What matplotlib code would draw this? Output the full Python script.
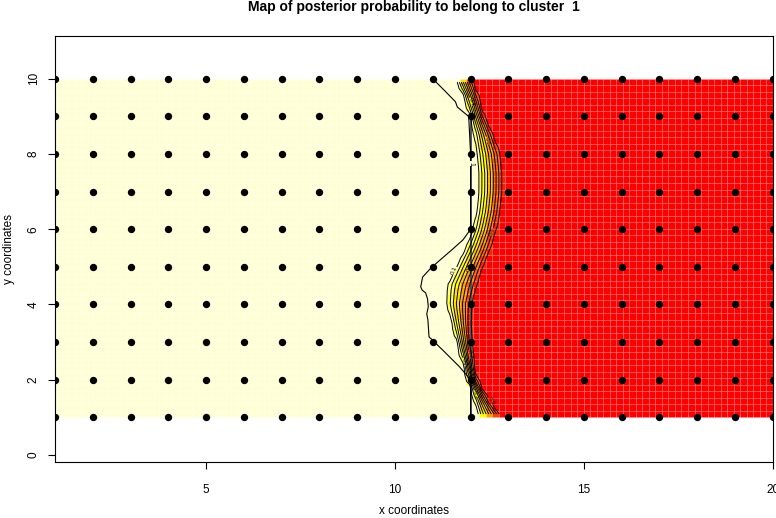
import matplotlib.pyplot as plt
import numpy as np
from matplotlib.colors import ListedColormap, BoundaryNorm

plt.rcParams['font.family'] = ['Liberation Sans', 'DejaVu Sans']

# --- DATA ---
# sampling locations (20 x 10 regular grid)
x_coords = np.arange(1, 21)
y_coords = np.arange(1, 11)

# transition zone: for each row y, the x where the
# posterior probability leaves 0 (left) and reaches 1 (right)
row_y = [1, 1.5, 2, 2.5, 3, 3.5, 4, 4.5, 5, 5.5, 6, 6.5, 7, 7.5, 8, 8.5, 9, 9.5, 10]
left_x = [12.15, 12.05, 11.9, 11.75, 11.6, 11.45, 11.3, 11.3, 11.55, 11.8,
          12.0, 12.1, 12.15, 12.15, 12.1, 12.05, 11.95, 11.8, 11.55]
right_x = [12.9, 12.5, 12.2, 12.1, 12.05, 12.05, 12.1, 12.25, 12.4, 12.6,
           12.75, 12.85, 12.9, 12.9, 12.85, 12.65, 12.4, 12.25, 12.1]

# jagged outer contour (level 0) on the left of the front
edge_x = [11.0, 11.3, 11.6, 11.65, 11.95, 12.0, 12.0, 11.8, 11.5, 11.2, 10.95,
          10.73, 10.68, 10.72, 10.81, 10.86, 10.88, 10.84, 10.87, 10.9, 11.3, 11.7, 12.0, 12.0]
edge_y = [10.0, 9.7, 9.39, 9.25, 9.0, 8.0, 6.0, 5.72, 5.45, 5.19, 4.97,
          4.73, 4.47, 4.38, 4.31, 4.15, 3.94, 3.75, 3.59, 3.14, 2.75, 2.35, 2.0, 1.0]

# R heat.colors(12), reversed: low probability -> pale yellow, high -> red
heat12 = ['#FF0000', '#FF2000', '#FF4000', '#FF6000', '#FF8000', '#FF9F00',
          '#FFBF00', '#FFDF00', '#FFFF00', '#FFFF2A', '#FFFF80', '#FFFFD5']
levels = [0.1, 0.2, 0.3, 0.4, 0.5, 0.6, 0.7, 0.8, 0.9]

# --- pixel map of the posterior probability ---
xe = np.linspace(1, 20, 111)
ye = np.linspace(1, 10, 53)
xc = (xe[:-1] + xe[1:]) / 2
yc = (ye[:-1] + ye[1:]) / 2
L = np.interp(yc, row_y, left_x)
R = np.interp(yc, row_y, right_x)
XC, YC = np.meshgrid(xc, yc)
prob = np.clip((XC - L[:, None]) / (R - L)[:, None], 0, 1)

cmap = ListedColormap(heat12[::-1])
norm = BoundaryNorm(np.linspace(0, 1, 13), cmap.N)

fig = plt.figure(figsize=(7.76, 5.18), dpi=100)
ax = fig.add_axes([0.0709, 0.108, 0.925, 0.8225])

# faint light seams between cells, like the R image() output
ax.pcolormesh(xe, ye, prob, cmap=cmap, norm=norm, antialiased=True,
              edgecolors=(1, 1, 1, 0.12), linewidth=0.4)

ax.plot([12, 12], [1, 9], color='#555555', lw=1.4)
ax.text(12.0, 7.75, '1', fontsize=5, rotation=-90, ha='center', va='center',
        bbox=dict(boxstyle='square,pad=0.1', fc='#FFFFD5', ec='none'))
ax.plot(edge_x, edge_y, color='black', lw=0.8)

cs = ax.contour(XC, YC, prob, levels=levels, colors='black', linewidths=0.7)
ax.clabel(cs, fmt='%g', fontsize=4.5, inline=True, inline_spacing=1)

gx, gy = np.meshgrid(x_coords, y_coords)
ax.scatter(gx.ravel(), gy.ravel(), s=28, color='black', zorder=5, linewidths=0)

ax.set_xlim(1, 20)
ax.set_ylim(-0.19, 11.14)
ax.set_xticks([5, 10, 15, 20])
ax.set_yticks([0, 2, 4, 6, 8, 10])
ax.set_yticklabels(['0', '2', '4', '6', '8', '10'], rotation=90, va='center')
ax.tick_params(direction='out', length=5, width=0.8, labelsize=8.5)
ax.tick_params(axis='x', pad=11)
ax.tick_params(axis='y', pad=6)
for s in ax.spines.values():
    s.set_linewidth(0.8)

ax.set_xlabel('x coordinates', fontsize=8.5, labelpad=6)
ax.set_ylabel('y coordinates', fontsize=8.5, labelpad=9)
ax.set_title('Map of posterior probability to belong to cluster  1',
             fontsize=10, fontweight='bold', pad=18)

fig.savefig('out.png', dpi=100)
